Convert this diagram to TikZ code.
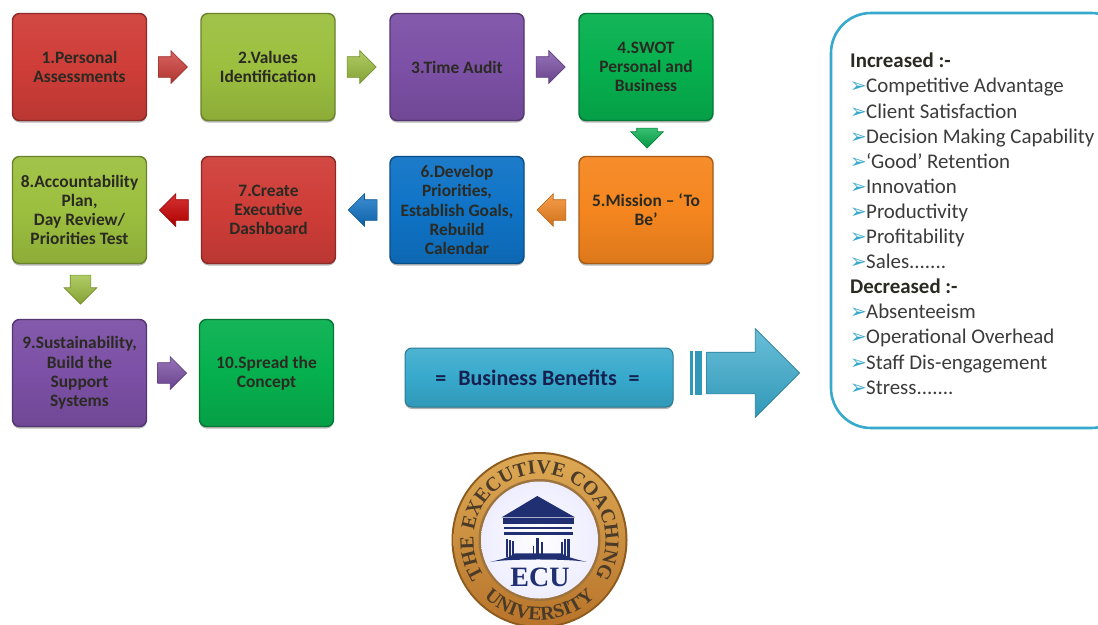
\documentclass[tikz,border=0pt]{standalone}
\usepackage{fontspec}
\setmainfont{Carlito}
\newfontfamily\bulletfont{DejaVu Sans}
\newfontfamily\sealfont{Liberation Serif}[BoldFont={Liberation Serif Bold}]
\usetikzlibrary{shapes.arrows,shadows,calc,decorations.text}
\definecolor{cRed}{HTML}{CF3D38}
\definecolor{cLime}{HTML}{9CBF3F}
\definecolor{cPurple}{HTML}{7C50A6}
\definecolor{cGreen}{HTML}{06B04E}
\definecolor{cOrange}{HTML}{F5861F}
\definecolor{cBlue}{HTML}{0F73C6}
\definecolor{cTeal}{HTML}{37A9CC}
\definecolor{cNavy}{HTML}{1F2F72}
\definecolor{cInk}{HTML}{2A2A22}
\definecolor{cPanelText}{HTML}{3B3B3B}
\definecolor{cGoldA}{HTML}{DDA955}
\definecolor{cGoldB}{HTML}{B8742A}
\definecolor{cGoldRim}{HTML}{8C5A1C}
\definecolor{cSealInk}{HTML}{4A3A28}
\tikzset{
  x=1pt,y=-1pt,
  stepbox/.style={rounded corners=7pt,minimum width=134pt,minimum height=107pt,inner sep=1pt,
    align=center,text=cInk,font=\fontsize{17.4}{19.2}\selectfont\bfseries,
    draw=#1!68!black,line width=1.4pt,
    top color=#1!94!white,bottom color=#1!90!black,middle color=#1,
    drop shadow={shadow xshift=0pt,shadow yshift=-2pt,opacity=.28,fill=black}},
  flow/.style={single arrow,single arrow head extend=6pt,single arrow head indent=0pt,
    anchor=tip,minimum height=29pt,inner xsep=0pt,inner ysep=10pt,draw=#1!75!black,line width=.6pt,
    top color=#1!80!white,bottom color=#1!85!black},
  flowdown/.style={flow=#1,shape border rotate=270,inner xsep=10pt,inner ysep=0pt},
  benefit/.style={rounded corners=7pt,draw=cTeal!72!black,line width=1pt,
    top color=cTeal!88!white,bottom color=cTeal!90!black,middle color=cTeal,
    drop shadow={shadow xshift=0pt,shadow yshift=-2pt,opacity=.3,fill=black}},
  navy/.style={fill=cNavy,draw=none},
}
\newcommand{\itm}[1]{\makebox[16pt][l]{\smash{\textcolor{cTeal}{\bulletfont\fontsize{20}{20}\selectfont ➢}}}#1}
\begin{document}
\begin{tikzpicture}
\clip (0,0) rectangle (1098,624);
\fill[white] (0,0) rectangle (1098,624);

% step boxes
\node[stepbox=cRed]    (s1)  at (79.5,67)  {1.Personal\\Assessments};
\node[stepbox=cLime]   (s2)  at (268,67)   {2.Values\\Identification};
\node[stepbox=cPurple] (s3)  at (457,67)   {3.Time Audit};
\node[stepbox=cGreen]  (s4)  at (646,67)   {4.SWOT\\Personal and\\Business};
\node[stepbox=cOrange] (s5)  at (646,210)  {5.Mission -- ‘To\\Be’};
\node[stepbox=cBlue]   (s6)  at (457,210)  {6.Develop\\Priorities,\\Establish Goals,\\Rebuild\\Calendar};
\node[stepbox=cRed]    (s7)  at (268.5,210){7.Create\\Executive\\Dashboard};
\node[stepbox=cLime]   (s8)  at (79.5,210) {8.Accountability\\Plan,\\Day Review/\\Priorities Test};
\node[stepbox=cPurple] (s9)  at (79.5,373) {9.Sustainability,\\Build the\\Support\\Systems};
\node[stepbox=cGreen]  (s10) at (266.5,373){10.Spread the\\Concept};

% block arrow connectors
\node[flow=cRed]    (a12)  at ($(s1.east)!.5!(s2.west)+(14,0)$) {};
\node[flow=cLime]   (a23)  at ($(s2.east)!.5!(s3.west)+(14,0)$) {};
\node[flow=cPurple] (a34)  at ($(s3.east)!.5!(s4.west)+(14,0)$) {};
\node[flowdown=cGreen,minimum height=20pt] (a45) at ($(s4.south)!.5!(s5.north)+(1,10)$) {};
\node[flow=cOrange,shape border rotate=180] (a56) at ($(s5.west)!.5!(s6.east)+(-15,0)$) {};
\node[flow=cBlue,shape border rotate=180]   (a67) at ($(s6.west)!.5!(s7.east)+(-15,0)$) {};
\node[flow=red!80!black,shape border rotate=180] (a78) at ($(s7.west)!.5!(s8.east)+(-15,0)$) {};
\node[flowdown=cLime] (a89) at ($(s8.south)!.5!(s9.north)+(1,13)$) {};
\node[flow=cPurple] (a910) at ($(s9.east)!.5!(s10.west)+(14,0)$) {};

% business benefits
\node[benefit,minimum width=268pt,minimum height=59pt,inner sep=0pt] (bb) at (539,377.5) {};
\node[font=\fontsize{22}{22}\selectfont\bfseries,text=cNavy!70!black,inner sep=0pt] (bbt) at (537.5,377.5)
  {=\hspace{12pt}Business Benefits\hspace{12pt}=};
\fill[cTeal!90!black] (690,351) rectangle (692.7,395);
\fill[cTeal!90!black] (695,351) rectangle (702,395);
\node[single arrow,single arrow head extend=23.5pt,single arrow head indent=0pt,anchor=tip,
  minimum height=93pt,inner xsep=0pt,inner ysep=20.5pt,draw=cTeal!75!black,line width=.6pt,
  top color=cTeal!75!white,bottom color=cTeal!90!black] (big) at (800,373) {};

% panel
\node[draw=cTeal,line width=2.6pt,rounded corners=40pt,fill=white,
  minimum width=300pt,minimum height=415pt,inner sep=0pt] (panel) at (981,220.5) {};
\node[anchor=north west,inner sep=0pt,align=left,text=cPanelText,
  font=\fontsize{20.9}{25.1}\selectfont] (list) at (850,53) {%
  \textcolor{cInk}{\textbf{Increased :-}}\\
  \itm{Competitive Advantage}\\
  \itm{Client Satisfaction}\\
  \itm{Decision Making Capability}\\
  \itm{‘Good’ Retention}\\
  \itm{Innovation}\\
  \itm{Productivity}\\
  \itm{Profitability}\\
  \itm{Sales.......}\\
  \textcolor{cInk}{\textbf{Decreased :-}}\\
  \itm{Absenteeism}\\
  \itm{Operational Overhead}\\
  \itm{Staff Dis-engagement}\\
  \itm{Stress.......}};

% seal
\coordinate (sc) at (539.5,540);
\begin{scope}[shift={(sc)},y=1pt]
  \fill[cGoldRim] (0,0) circle (88);
  \shade[top color=cGoldA,bottom color=cGoldB] (0,0) circle (86);
  \fill[cGoldRim!85] (0,0) circle (61);
  \shade[inner color=white,outer color=blue!7] (0,0) circle (58.5);
  \path[decorate,decoration={text along path,text align=center,
    text={|\sealfont\bfseries\fontsize{20}{20}\selectfont\color{cSealInk}|THE EXECUTIVE COACHING}}]
    (235:66) arc[start angle=235,end angle=-55,radius=66];
  \path[decorate,decoration={text along path,text align=center,
    text={|\sealfont\bfseries\fontsize{19.5}{19.5}\selectfont\color{cSealInk}|UNIVERSITY}}]
    (205:80) arc[start angle=205,end angle=335,radius=80];
\end{scope}
\begin{scope}[shift={(430,440)},x=.3333pt,y=-.3333pt]
  \fill[navy] (322,168) -- (435,232) -- (215,232) -- cycle;
  \fill[navy] (218,235) rectangle (432,252);
  \fill[navy] (222,262) rectangle (425,266);
  \fill[navy] (222,275) rectangle (428,286);
  \fill[navy] (228,296) rectangle (234,352);
  \fill[navy] (238,300) rectangle (243,352);
  \fill[navy] (247,304) rectangle (251,352);
  \fill[navy] (318,294) rectangle (326,350);
  \fill[navy] (334,305) rectangle (338,350);
  \fill[navy] (308,318) rectangle (312,350);
  \fill[navy] (392,305) rectangle (398,352);
  \fill[navy] (402,298) rectangle (408,352);
  \fill[navy] (412,296) rectangle (420,352);
  \fill[navy] (180,366) .. controls (215,358) and (240,352) .. (255,340)
     -- (395,340) .. controls (410,352) and (440,358) .. (470,366)
     .. controls (420,356) and (230,356) .. (180,366) -- cycle;
  \node[font=\sealfont\bfseries\fontsize{28}{28}\selectfont,text=cNavy,inner sep=0pt] (ecu) at (330,412) {ECU};
\end{scope}
\end{tikzpicture}
\end{document}
